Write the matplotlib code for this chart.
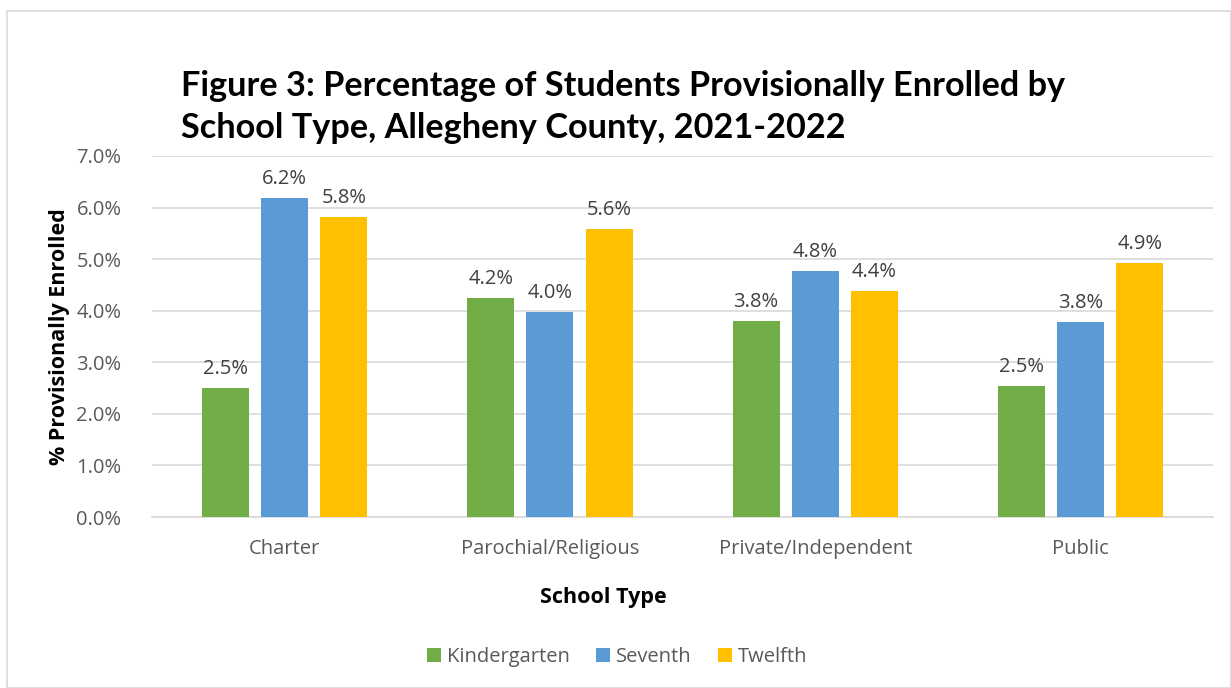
import matplotlib.pyplot as plt
import numpy as np
from matplotlib.patches import Rectangle

plt.rcParams['font.family'] = ['Open Sans', 'DejaVu Sans']

school_types = ['Charter', 'Parochial/Religious', 'Private/Independent', 'Public']
kindergarten = [2.5, 4.25, 3.8, 2.54]
seventh = [6.19, 3.98, 4.77, 3.78]
twelfth = [5.82, 5.58, 4.38, 4.93]
kindergarten_labels = ['2.5%', '4.2%', '3.8%', '2.5%']
seventh_labels = ['6.2%', '4.0%', '4.8%', '3.8%']
twelfth_labels = ['5.8%', '5.6%', '4.4%', '4.9%']

series = [
    ('Kindergarten', kindergarten, kindergarten_labels, '#70ad47'),
    ('Seventh', seventh, seventh_labels, '#5b9bd5'),
    ('Twelfth', twelfth, twelfth_labels, '#ffc000'),
]

fig = plt.figure(figsize=(12.31, 6.88), dpi=100)
fig.patches.append(Rectangle((7 / 1231, 0), 1 - 7 / 1231, 1 - 11 / 688, transform=fig.transFigure,
                             fill=False, edgecolor='#d9d9d9', linewidth=1.2))
ax = fig.add_axes([0.1235, 0.2485, 0.862, 0.5248])

x = np.arange(len(school_types))
width = 0.177
step = 0.223
for i, (name, vals, labels, color) in enumerate(series):
    pos = x + (i - 1) * step
    bars = ax.bar(pos, vals, width, color=color, label=name, zorder=3)
    for b, lab in zip(bars, labels):
        ax.text(b.get_x() + b.get_width() / 2, b.get_height() + 0.17, lab,
                ha='center', va='bottom', fontsize=14.5, color='#404040')

ax.set_xlim(-0.5, 3.5)
ax.set_ylim(0, 7)
ax.set_yticks(np.arange(0, 7.01, 1))
ax.set_yticklabels([f'{v:.1f}%' for v in np.arange(0, 7.01, 1)])
ax.set_xticks(x)
ax.set_xticklabels(school_types)
ax.tick_params(axis='both', length=0, labelsize=14.5, labelcolor='#595959')
ax.tick_params(axis='x', pad=16)
ax.tick_params(axis='y', pad=22)
ax.grid(axis='y', color='#d9d9d9', linewidth=1.2, zorder=0)
for s in ['top', 'right', 'left']:
    ax.spines[s].set_visible(False)
ax.spines['bottom'].set_color('#d9d9d9')
ax.spines['bottom'].set_linewidth(1.2)

fig.text(603 / 1231, 1 - 598 / 688, 'School Type', fontsize=15.5, fontweight='bold',
         ha='center', va='center')
fig.text(60 / 1231, 1 - 337 / 688, '% Provisionally Enrolled', fontsize=15.5, fontweight='bold',
         ha='center', va='center', rotation=90)

fig.text(181 / 1231, 1 - 107 / 688, 'Figure 3: Percentage of Students Provisionally Enrolled by\nSchool Type, Allegheny County, 2021-2022',
         fontsize=24.7, fontweight='bold', ha='left', va='center', linespacing=1.4,
         family=['Lato', 'DejaVu Sans'])

fig.legend(loc='center', bbox_to_anchor=(617 / 1231, 1 - 657 / 688),
           ncol=3, frameon=False, fontsize=14.5, handlelength=0.7, handleheight=0.7,
           columnspacing=1.3, handletextpad=0.3, labelcolor='#595959')

fig.savefig('out.png', dpi=100)
